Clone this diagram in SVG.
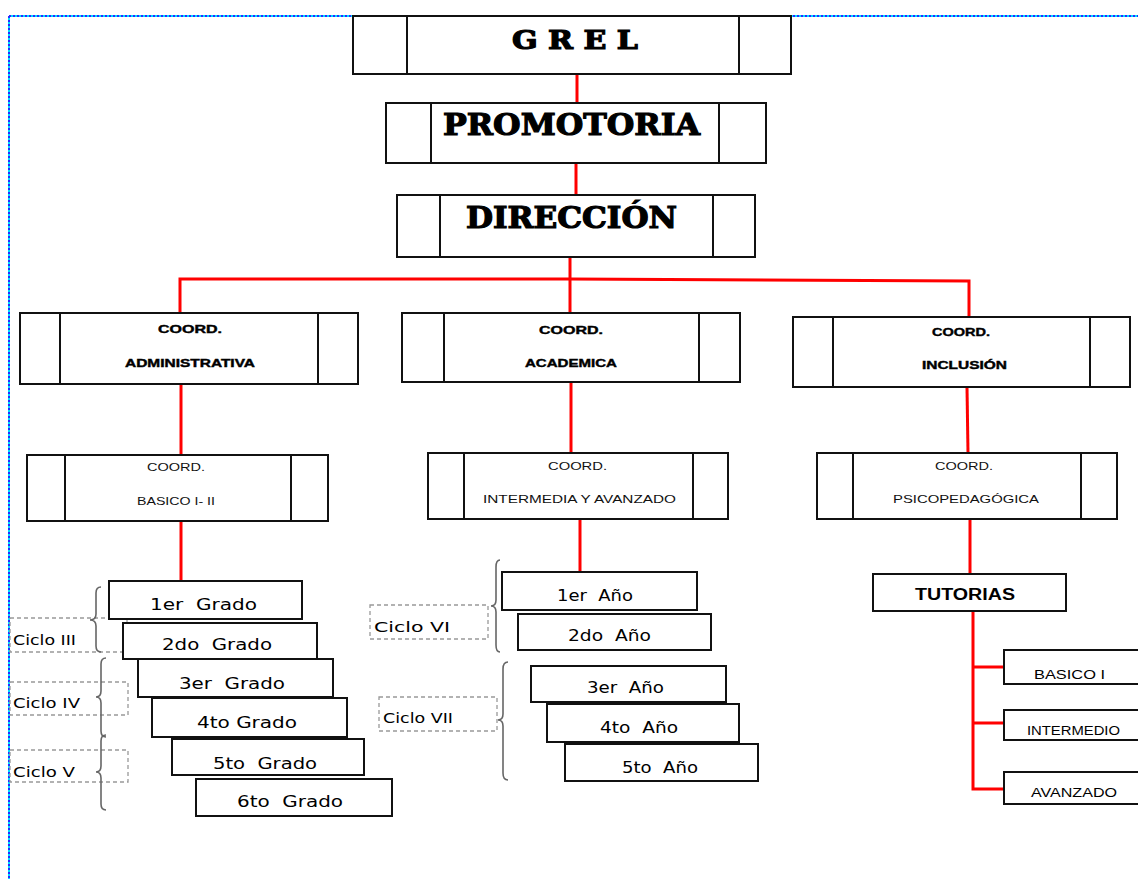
<svg xmlns="http://www.w3.org/2000/svg" width="1138" height="879" viewBox="0 0 1138 879">
<style>
.box{fill:#fff;stroke:#111;stroke-width:2}
.div{stroke:#111;stroke-width:2}
.red{fill:none;stroke:#ff0000;stroke-width:3}
.dash{fill:none;stroke:#999;stroke-width:1.3;stroke-dasharray:4 3}
.brace{fill:none;stroke:#666;stroke-width:1.6}
.hd{font-family:"DejaVu Serif","Liberation Serif",serif;font-weight:bold;fill:#000;stroke:#000;stroke-width:1.2;text-anchor:start}
.cb{font-family:"Liberation Sans",Arial,sans-serif;font-weight:bold;font-size:11px;fill:#000;stroke:#000;stroke-width:0.4}
.cn{font-family:"Liberation Sans",Arial,sans-serif;font-size:11px;fill:#111}
.gr{font-family:"DejaVu Sans",sans-serif;font-size:16px;fill:#000;white-space:pre}
.cy{font-family:"DejaVu Sans",sans-serif;font-size:14px;fill:#000}
.tu{font-family:"Liberation Sans",Arial,sans-serif;font-size:12px;fill:#000}
</style>
<rect width="1138" height="879" fill="#fff"/>
<g id="border">
<path d="M9,16 H1138 M9,16 V879" fill="none" stroke="#00e0ff" stroke-width="2"/>
<path d="M9,16 H1138 M9,16 V879" fill="none" stroke="#2a2aff" stroke-width="2" stroke-dasharray="2 2"/>
</g>
<g id="connectors">
<path class="red" d="M577,74 V103"/>
<path class="red" d="M576,163 V195"/>
<path class="red" d="M570,257 V313"/>
<path class="red" d="M180,313 V279 H570 L969,281 V317"/>
<path class="red" d="M181,384 V455"/>
<path class="red" d="M571,382 V453"/>
<path class="red" d="M967,387 L968,453"/>
<path class="red" d="M181,521 V581"/>
<path class="red" d="M580,519 V572"/>
<path class="red" d="M970,519 V574"/>
<path class="red" d="M973,611 V789 H1004 M973,667 H1004 M973,723 H1004"/>
</g>
<g id="grel">
<rect class="box" x="353" y="16" width="438" height="58"/>
<path class="div" d="M407,16 V74 M739,16 V74"/>
<text class="hd" x="512" y="49" font-size="26" textLength="126" lengthAdjust="spacingAndGlyphs">G R E L</text>
</g>
<g id="promotoria">
<rect class="box" x="386" y="103" width="380" height="60"/>
<path class="div" d="M431,103 V163 M719,103 V163"/>
<text class="hd" x="443" y="135" font-size="30" textLength="257" lengthAdjust="spacingAndGlyphs">PROMOTORIA</text>
</g>
<g id="direccion">
<rect class="box" x="397" y="195" width="358" height="62"/>
<path class="div" d="M440,195 V257 M713,195 V257"/>
<text class="hd" x="466" y="228" font-size="29" textLength="211" lengthAdjust="spacingAndGlyphs">DIRECCIÓN</text>
</g>
<g id="coord-administrativa">
<rect class="box" x="20" y="313" width="338" height="71"/>
<path class="div" d="M60,313 V384 M318,313 V384"/>
<text class="cb" x="158" y="333" textLength="64" lengthAdjust="spacingAndGlyphs">COORD.</text>
<text class="cb" x="125" y="367" textLength="130" lengthAdjust="spacingAndGlyphs">ADMINISTRATIVA</text>
</g>
<g id="coord-academica">
<rect class="box" x="402" y="313" width="338" height="69"/>
<path class="div" d="M444,313 V382 M699,313 V382"/>
<text class="cb" x="539" y="334" textLength="64" lengthAdjust="spacingAndGlyphs">COORD.</text>
<text class="cb" x="525" y="367" textLength="92" lengthAdjust="spacingAndGlyphs">ACADEMICA</text>
</g>
<g id="coord-inclusion">
<rect class="box" x="793" y="317" width="337" height="70"/>
<path class="div" d="M833,317 V387 M1090,317 V387"/>
<text class="cb" x="932" y="336" textLength="58" lengthAdjust="spacingAndGlyphs">COORD.</text>
<text class="cb" x="922" y="369" textLength="85" lengthAdjust="spacingAndGlyphs">INCLUSIÓN</text>
</g>
<g id="coord-basico">
<rect class="box" x="27" y="455" width="301" height="66"/>
<path class="div" d="M65,455 V521 M291,455 V521"/>
<text class="cn" x="147" y="471" textLength="58" lengthAdjust="spacingAndGlyphs">COORD.</text>
<text class="cn" x="137" y="505" textLength="78" lengthAdjust="spacingAndGlyphs">BASICO I- II</text>
</g>
<g id="coord-intermedia">
<rect class="box" x="428" y="453" width="300" height="66"/>
<path class="div" d="M464,453 V519 M693,453 V519"/>
<text class="cn" x="548" y="470" textLength="59" lengthAdjust="spacingAndGlyphs">COORD.</text>
<text class="cn" x="483" y="503" textLength="193" lengthAdjust="spacingAndGlyphs">INTERMEDIA Y AVANZADO</text>
</g>
<g id="coord-psicopedagogica">
<rect class="box" x="817" y="453" width="300" height="66"/>
<path class="div" d="M853,453 V519 M1081,453 V519"/>
<text class="cn" x="935" y="470" textLength="58" lengthAdjust="spacingAndGlyphs">COORD.</text>
<text class="cn" x="893" y="503" textLength="146" lengthAdjust="spacingAndGlyphs">PSICOPEDAGÓGICA</text>
</g>
<g id="ciclos-primaria">
<rect class="dash" x="10" y="618" width="117" height="34"/>
<text class="cy" x="13" y="645" textLength="63" lengthAdjust="spacingAndGlyphs">Ciclo III</text>
<rect class="dash" x="10" y="682" width="118" height="33"/>
<text class="cy" x="13" y="708" textLength="67" lengthAdjust="spacingAndGlyphs">Ciclo IV</text>
<rect class="dash" x="10" y="750" width="118" height="32"/>
<text class="cy" x="13" y="777" textLength="62" lengthAdjust="spacingAndGlyphs">Ciclo V</text>
<path class="brace" d="M101,587 Q96,587 96,593 L96,614 Q96,620 90,620 Q96,620 96,626 L96,646 Q96,652 101,652"/>
<path class="brace" d="M106,658 Q101,658 101,664 L101,691 Q101,697 96,697 Q101,697 101,703 L101,731 Q101,737 106,737"/>
<path class="brace" d="M106,735 Q101,735 101,741 L101,766 Q101,772 96,772 Q101,772 101,778 L101,804 Q101,810 106,810"/>
</g>
<g id="grado-1"><rect class="box" x="109" y="581" width="193" height="38"/><text class="gr" xml:space="preserve" x="150" y="610" textLength="107" lengthAdjust="spacingAndGlyphs">1er  Grado</text></g>
<g id="grado-2"><rect class="box" x="123" y="623" width="194" height="36"/><text class="gr" xml:space="preserve" x="162" y="650" textLength="110" lengthAdjust="spacingAndGlyphs">2do  Grado</text></g>
<g id="grado-3"><rect class="box" x="138" y="659" width="195" height="38"/><text class="gr" xml:space="preserve" x="179" y="689" textLength="106" lengthAdjust="spacingAndGlyphs">3er  Grado</text></g>
<g id="grado-4"><rect class="box" x="152" y="698" width="195" height="39"/><text class="gr" xml:space="preserve" x="197" y="728" textLength="100" lengthAdjust="spacingAndGlyphs">4to Grado</text></g>
<g id="grado-5"><rect class="box" x="172" y="739" width="192" height="36"/><text class="gr" xml:space="preserve" x="213" y="769" textLength="104" lengthAdjust="spacingAndGlyphs">5to  Grado</text></g>
<g id="grado-6"><rect class="box" x="196" y="779" width="196" height="37"/><text class="gr" xml:space="preserve" x="237" y="807" textLength="106" lengthAdjust="spacingAndGlyphs">6to  Grado</text></g>
<g id="ciclos-secundaria">
<rect class="dash" x="370" y="605" width="118" height="34"/>
<text class="cy" x="374" y="632" textLength="76" lengthAdjust="spacingAndGlyphs">Ciclo VI</text>
<rect class="dash" x="379" y="697" width="118" height="34"/>
<text class="cy" x="383" y="723" textLength="70" lengthAdjust="spacingAndGlyphs">Ciclo VII</text>
<path class="brace" d="M500,560 Q496,560 496,567 L496,600 Q496,606 491,606 Q496,606 496,612 L496,645 Q496,652 500,652"/>
<path class="brace" d="M508,662 Q503,662 503,669 L503,714 Q503,720 498,720 Q503,720 503,726 L503,773 Q503,780 508,780"/>
</g>
<g id="anio-1"><rect class="box" x="502" y="572" width="195" height="38"/><text class="gr" xml:space="preserve" x="557" y="601" textLength="76" lengthAdjust="spacingAndGlyphs">1er  Año</text></g>
<g id="anio-2"><rect class="box" x="518" y="614" width="193" height="36"/><text class="gr" xml:space="preserve" x="568" y="641" textLength="83" lengthAdjust="spacingAndGlyphs">2do  Año</text></g>
<g id="anio-3"><rect class="box" x="531" y="666" width="195" height="36"/><text class="gr" xml:space="preserve" x="587" y="693" textLength="77" lengthAdjust="spacingAndGlyphs">3er  Año</text></g>
<g id="anio-4"><rect class="box" x="547" y="704" width="192" height="38"/><text class="gr" xml:space="preserve" x="600" y="733" textLength="78" lengthAdjust="spacingAndGlyphs">4to  Año</text></g>
<g id="anio-5"><rect class="box" x="565" y="744" width="193" height="37"/><text class="gr" xml:space="preserve" x="622" y="773" textLength="76" lengthAdjust="spacingAndGlyphs">5to  Año</text></g>
<g id="tutorias">
<rect class="box" x="873" y="574" width="193" height="37"/>
<text x="915" y="600" font-family="Liberation Sans, Arial, sans-serif" font-weight="bold" font-size="16" textLength="100" lengthAdjust="spacingAndGlyphs">TUTORIAS</text>
</g>
<g id="tut-basico"><rect class="box" x="1004" y="650" width="140" height="34"/><text class="tu" x="1034" y="679" textLength="71" lengthAdjust="spacingAndGlyphs">BASICO I</text></g>
<g id="tut-intermedio"><rect class="box" x="1004" y="710" width="140" height="30"/><text class="tu" x="1027" y="735" textLength="93" lengthAdjust="spacingAndGlyphs">INTERMEDIO</text></g>
<g id="tut-avanzado"><rect class="box" x="1004" y="772" width="140" height="32"/><text class="tu" x="1031" y="797" textLength="86" lengthAdjust="spacingAndGlyphs">AVANZADO</text></g>
</svg>
